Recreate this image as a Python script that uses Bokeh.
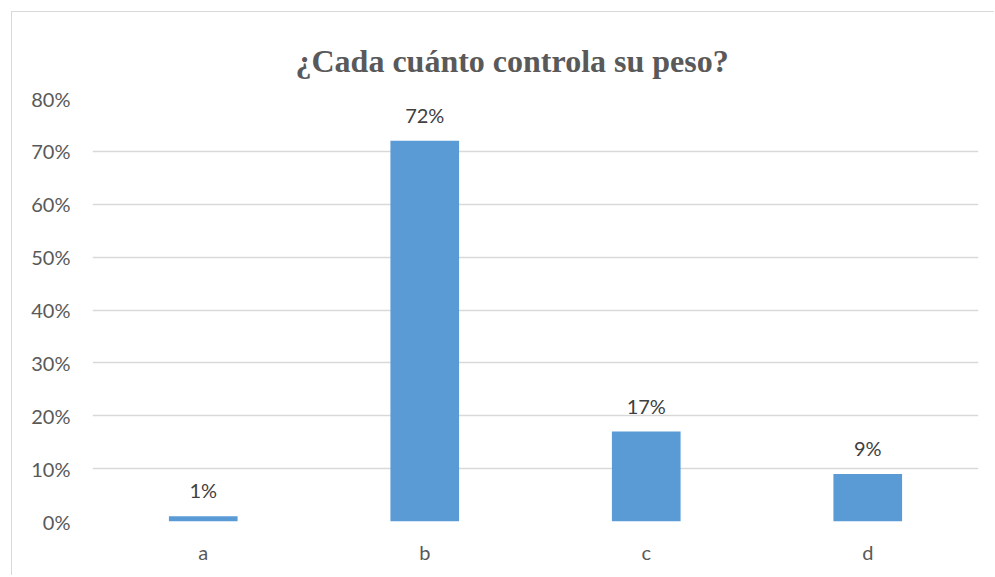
from bokeh.plotting import figure
from bokeh.models import ColumnDataSource, Range1d, FixedTicker, PrintfTickFormatter, Title
from bokeh.core.properties import value
from bokeh.embed import file_html
from bokeh.resources import INLINE

# Survey answers and their share of respondents (%)
categories = ["a", "b", "c", "d"]
shares = [1, 72, 17, 9]
share_labels = [f"{s}%" for s in shares]
y_ticks = [0, 10, 20, 30, 40, 50, 60, 70, 80]

source = ColumnDataSource(data=dict(cat=categories, share=shares, label=share_labels))

p = figure(
    x_range=categories,
    y_range=Range1d(0, 80),
    width=983,
    height=564,
    output_backend="svg",
    toolbar_location=None,
    min_border_left=80,
    min_border_right=17,
    min_border_top=86,
    min_border_bottom=55,
)
p.margin = (11, 0, 0, 11)
p.styles = {"border-left": "1px solid #d9d9d9", "border-top": "1px solid #d9d9d9"}

p.title = Title(
    text="¿Cada cuánto controla su peso?",
    text_font="Liberation Serif",
    text_font_size="32px",
    text_font_style="bold",
    text_color="#595959",
    align="left",
    offset=203,
    standoff=40,
)

p.vbar(x="cat", top="share", width=0.31, source=source, color="#5B9BD5", line_color=None)

p.text(
    x="cat", y="share", text="label", source=source,
    text_align="center", text_baseline="bottom", y_offset=-14,
    text_font=value("Lato"), text_font_size="20px", text_color="#404040",
)

p.outline_line_color = None
p.xgrid.grid_line_color = None
p.ygrid.grid_line_color = "#d9d9d9"
p.ygrid.grid_line_width = 1.3
p.ygrid.ticker = FixedTicker(ticks=y_ticks)

p.yaxis.ticker = FixedTicker(ticks=y_ticks)
p.yaxis.formatter = PrintfTickFormatter(format="%d%%")
p.yaxis.axis_line_color = None
p.yaxis.major_tick_line_color = None
p.yaxis.minor_tick_line_color = None
p.yaxis.major_tick_out = 0
p.yaxis.major_label_standoff = 22
p.yaxis.major_label_text_font = "Lato"
p.yaxis.major_label_text_font_size = "20px"
p.yaxis.major_label_text_color = "#595959"

p.xaxis.axis_line_color = None
p.xaxis.major_tick_line_color = None
p.xaxis.major_tick_out = 0
p.xaxis.major_label_standoff = 18
p.xaxis.major_label_text_font = "Lato"
p.xaxis.major_label_text_font_size = "20px"
p.xaxis.major_label_text_color = "#595959"

open("out.html", "w").write(file_html(p, INLINE))
